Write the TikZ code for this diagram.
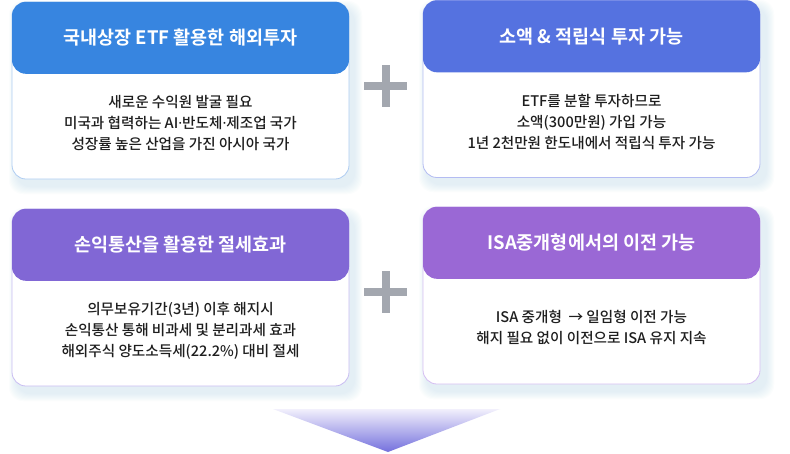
\documentclass[tikz,border=0pt]{standalone}
\usepackage{fontspec}
\setmainfont{Noto Sans CJK KR}[BoldFont={Noto Sans CJK KR Bold}]
\newfontfamily\medfont{Noto Sans CJK KR Medium}
\newfontfamily\dotfont{Noto Sans}
\newcommand{\mdot}{{\dotfont\char"00B7}}
\usetikzlibrary{positioning}
\definecolor{hA}{HTML}{3785E0}
\definecolor{hB}{HTML}{5572E0}
\definecolor{hC}{HTML}{8167D5}
\definecolor{hD}{HTML}{9A68D5}
\definecolor{bA}{HTML}{AFCDF2}
\definecolor{bB}{HTML}{B4BCF2}
\definecolor{bC}{HTML}{C9BDF2}
\definecolor{bD}{HTML}{D5BEF2}
\definecolor{shc}{HTML}{BFDDEA}
\definecolor{plusc}{HTML}{A3A7AF}
\definecolor{txt}{HTML}{1E1E1E}
\definecolor{triT}{HTML}{F2F0FC}
\definecolor{triB}{HTML}{7470DD}
\tikzset{
  card/.style={draw=#1, line width=0.8pt, fill=white, rounded corners=14pt,
    minimum width=337pt, minimum height=177pt, inner sep=0pt},
  head/.style={fill=#1, rounded corners=14pt, minimum width=337pt,
    minimum height=72pt, inner sep=0pt, text=white,
    font=\fontsize{18.5}{22}\selectfont\bfseries, anchor=north},
  body/.style={align=center, text=txt, inner sep=0pt,
    font=\fontsize{14.6}{21.3}\selectfont\medfont},
  plus/.style={fill=plusc},
}
\newcommand{\cshadow}[4]{%
  \foreach \i in {1,...,8}{%
    \fill[shc, opacity=0.055, rounded corners=14pt]
      ({#1+5-\i},{#2+7-\i}) rectangle ({#3+5+\i},{#4+7+\i});}}
\begin{document}
\begin{tikzpicture}[x=1pt,y=-1pt]
\useasboundingbox (0,0) rectangle (790,453);
\fill[white] (0,0) rectangle (790,453);
% shadows
\cshadow{12}{2}{349}{179}
\cshadow{422}{1}{761}{177}
\cshadow{12}{209}{349}{386}
\cshadow{422}{207}{761}{384}
% cards
\node[card=bA] (c1) at (180.5,90.5) {};
\node[card=bB] (c2) at (591.5,89) {};
\node[card=bC] (c3) at (180.5,297.5) {};
\node[card=bD] (c4) at (591.5,295.5) {};
% headers
\node[head=hA] (h1) at (c1.north) {국내상장 ETF 활용한 해외투자};
\node[head=hB] (h2) at (c2.north) {소액 \& 적립식 투자 가능};
\node[head=hC] (h3) at (c3.north) {손익통산을 활용한 절세효과};
\node[head=hD] (h4) at (c4.north) {ISA중개형에서의 이전 가능};
% bodies
\node[body] (b1) at (180.5,123) {새로운 수익원 발굴 필요\\미국과 협력하는 AI\mdot 반도체\mdot 제조업 국가\\성장률 높은 산업을 가진 아시아 국가};
\node[body] (b2) at (591.5,122) {ETF를 분할 투자하므로\\소액(300만원) 가입 가능\\1년 2천만원 한도내에서 적립식 투자 가능};
\node[body] (b3) at (180.5,331) {의무보유기간(3년) 이후 해지시\\손익통산 통해 비과세 및 분리과세 효과\\해외주식 양도소득세(22.2\%) 대비 절세};
\node[body] (b4) at (591.5,327.5) {ISA 중개형 \ → 일임형 이전 가능\\해지 필요 없이 이전으로 ISA 유지 지속};
% plus signs
\fill[plus] (364,82) rectangle (407,90);
\fill[plus] (381.5,65) rectangle (389.5,107);
\fill[plus] (364,288) rectangle (407,296);
\fill[plus] (381.5,271) rectangle (389.5,313);
% arrow triangle
\shade[top color=triT, bottom color=triB] (273,409) -- (500,409) -- (388,452) -- cycle;
\end{tikzpicture}
\end{document}
